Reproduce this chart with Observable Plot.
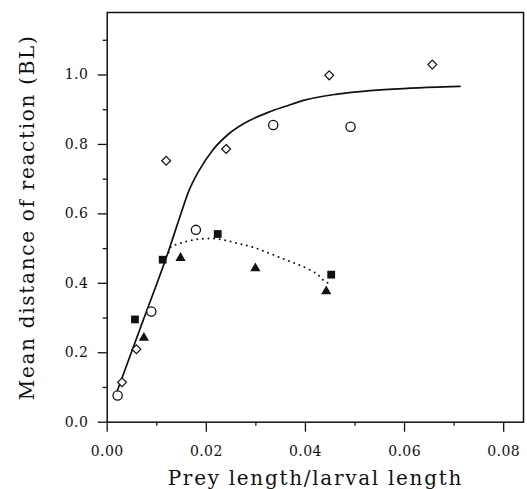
<!DOCTYPE html>
<html>
<head>
<meta charset="utf-8">
<script src="https://cdn.jsdelivr.net/npm/d3@7"></script>
<script src="https://cdn.jsdelivr.net/npm/@observablehq/plot@0.6"></script>
<style>
  html, body { margin: 0; padding: 0; background: #fff; }
  #chart svg { display: block; }
</style>
</head>
<body>
<div id="chart"></div>
<script>
// Open diamonds
const diamondX = [0.0030, 0.0059, 0.0119, 0.0240, 0.0448, 0.0656];
const diamondY = [0.115, 0.210, 0.753, 0.787, 0.999, 1.030];
// Open circles
const circleX = [0.0021, 0.0089, 0.0179, 0.0335, 0.0491];
const circleY = [0.077, 0.319, 0.554, 0.856, 0.851];
// Filled squares
const squareX = [0.0056, 0.0112, 0.0223, 0.0452];
const squareY = [0.296, 0.468, 0.542, 0.425];
// Filled triangles
const triangleX = [0.0074, 0.0148, 0.0299, 0.0442];
const triangleY = [0.243, 0.473, 0.443, 0.377];
// Solid fitted curve
const fitX = [0.0019, 0.0072, 0.0124, 0.0144, 0.0165, 0.0185, 0.0212, 0.0245, 0.0286, 0.0326, 0.0360, 0.0396, 0.0464, 0.0531, 0.0598, 0.0665, 0.0712];
const fitY = [0.085, 0.291, 0.494, 0.580, 0.667, 0.724, 0.782, 0.830, 0.868, 0.893, 0.910, 0.927, 0.945, 0.955, 0.961, 0.965, 0.967];
// Dotted fitted curve
const dotX = [0.0124, 0.0128, 0.0154, 0.0188, 0.0222, 0.0255, 0.0289, 0.0323, 0.0356, 0.0390, 0.0423, 0.0437, 0.0455];
const dotY = [0.489, 0.504, 0.518, 0.528, 0.528, 0.518, 0.506, 0.489, 0.470, 0.451, 0.427, 0.408, 0.395];
// Ticks
const xMajor = [0, 0.02, 0.04, 0.06, 0.08];
const xMinor = [0.01, 0.03, 0.05, 0.07];
const yMajor = [0, 0.2, 0.4, 0.6, 0.8, 1.0];
const yMinor = [0.1, 0.3, 0.5, 0.7, 0.9, 1.1];
const xTitle = "Prey length/larval length";
const yTitle = "Mean distance of reaction (BL)";

const pts = (xs, ys) => xs.map((x, i) => ({x, y: ys[i]}));

const font = "'DejaVu Serif', serif";

const chart = Plot.plot({
  width: 527,
  height: 489,
  marginLeft: 106.7,
  marginRight: 4,
  marginTop: 12,
  marginBottom: 67.3,
  style: {fontFamily: font, background: "#fff", color: "#111"},
  x: {domain: [0, 0.084]},
  y: {domain: [0, 1.18]},
  marks: [
    Plot.frame({stroke: "#111", strokeWidth: 1.5}),
    Plot.axisX(xMajor, {tickSize: 10, tickPadding: 14, tickFormat: d3.format(".2f"), fontSize: 14, label: null, strokeWidth: 1.3}),
    Plot.axisX(xMinor, {tickSize: 4, tickFormat: () => "", label: null, strokeWidth: 1.3}),
    Plot.axisY(yMajor, {tickSize: 9, tickPadding: 10, tickFormat: d3.format(".1f"), fontSize: 14, label: null, strokeWidth: 1.3}),
    Plot.axisY(yMinor, {tickSize: 4, tickFormat: () => "", label: null, strokeWidth: 1.3}),
    Plot.line(pts(fitX, fitY), {x: "x", y: "y", curve: "monotone-x", stroke: "#111", strokeWidth: 1.7}),
    Plot.line(pts(dotX, dotY), {x: "x", y: "y", curve: "catmull-rom", stroke: "#111", strokeWidth: 2, strokeDasharray: "0,5.6", strokeLinecap: "round"}),
    Plot.dot(pts(diamondX, diamondY), {x: "x", y: "y", symbol: "diamond2", r: 4, fill: "#fff", stroke: "#111", strokeWidth: 1.2}),
    Plot.dot(pts(circleX, circleY), {x: "x", y: "y", symbol: "circle", r: 4.6, fill: "#fff", stroke: "#111", strokeWidth: 1.3}),
    Plot.dot(pts(squareX, squareY), {x: "x", y: "y", symbol: "square", r: 4.4, fill: "#111", stroke: "none"}),
    Plot.dot(pts(triangleX, triangleY), {x: "x", y: "y", symbol: "triangle", r: 3.8, fill: "#111", stroke: "none"}),
    Plot.text([xTitle], {frameAnchor: "bottom", dy: 56.5, fontSize: 20, fill: "#111", textAnchor: "middle", lineAnchor: "middle"}),
    Plot.text([yTitle], {frameAnchor: "left", dx: -80, rotate: -90, fontSize: 20, fill: "#111", textAnchor: "middle", lineAnchor: "middle"})
  ]
});
d3.select(chart).selectAll("text")
  .filter(function() { const t = this.textContent; return t === xTitle || t === yTitle; })
  .attr("letter-spacing", "1.7px");
d3.select(chart).selectAll("g[aria-label='x-axis tick label'] text, g[aria-label='y-axis tick label'] text")
  .attr("letter-spacing", "0.4px");
document.getElementById("chart").appendChild(chart);
</script>
</body>
</html>
